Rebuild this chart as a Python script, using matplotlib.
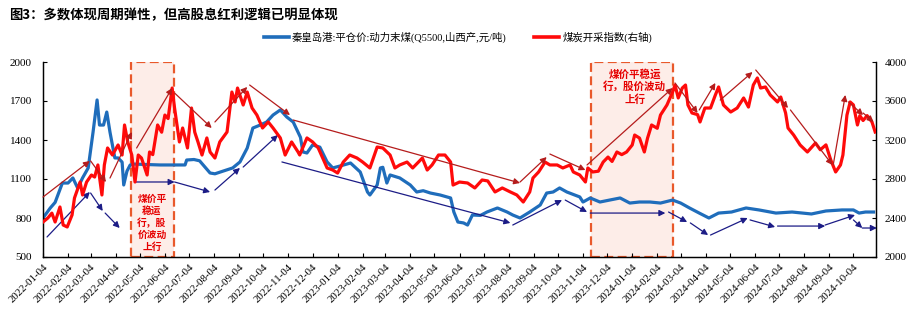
import matplotlib
matplotlib.use("Agg")
import matplotlib.pyplot as plt
import matplotlib.dates as mdates
from matplotlib.lines import Line2D
import pandas as pd

plt.rcParams['font.family'] = ['Liberation Serif', 'Noto Sans CJK SC']

title = "图3：多数体现周期弹性，但高股息红利逻辑已明显体现"
coal_label = "秦皇岛港:平仓价:动力末煤(Q5500,山西产,元/吨)"
index_label = "煤炭开采指数(右轴)"

# 秦皇岛港动力末煤 平仓价 (left axis)
coal_dates = [
    "2022-01-04", "2022-01-13", "2022-01-19", "2022-01-28", "2022-02-04", "2022-02-10",
    "2022-02-16", "2022-02-22", "2022-03-01", "2022-03-07", "2022-03-12", "2022-03-15",
    "2022-03-20", "2022-03-24", "2022-03-28", "2022-04-03", "2022-04-07", "2022-04-12",
    "2022-04-14", "2022-04-18", "2022-04-22", "2022-04-25", "2022-05-29", "2022-06-29",
    "2022-07-01", "2022-07-10", "2022-07-17", "2022-07-30", "2022-08-05", "2022-08-27",
    "2022-09-05", "2022-09-14", "2022-09-21", "2022-09-30", "2022-10-08", "2022-10-16",
    "2022-10-25", "2022-11-02", "2022-11-10", "2022-11-19", "2022-11-22", "2022-11-27",
    "2022-12-04", "2022-12-13", "2022-12-22", "2022-12-29", "2023-01-07", "2023-01-20",
    "2023-02-01", "2023-02-10", "2023-02-13", "2023-02-22", "2023-02-26", "2023-03-01",
    "2023-03-06", "2023-03-10", "2023-03-22", "2023-04-04", "2023-04-12", "2023-04-20",
    "2023-04-29", "2023-05-11", "2023-05-24", "2023-05-28", "2023-06-02", "2023-06-09",
    "2023-06-14", "2023-06-20", "2023-06-30", "2023-07-08", "2023-07-21", "2023-08-02",
    "2023-08-09", "2023-08-18", "2023-08-30", "2023-09-12", "2023-09-20", "2023-09-28",
    "2023-10-06", "2023-10-15", "2023-10-31", "2023-11-04", "2023-11-13", "2023-11-25",
    "2023-12-07", "2023-12-20", "2024-01-01", "2024-01-13", "2024-01-26", "2024-02-08",
    "2024-02-23", "2024-03-04", "2024-03-15", "2024-03-27", "2024-04-08", "2024-04-20",
    "2024-05-06", "2024-05-24", "2024-06-09", "2024-06-30", "2024-07-20", "2024-08-13",
    "2024-08-31", "2024-09-20", "2024-10-04", "2024-10-11", "2024-10-19", "2024-10-29",
]
coal_price = [
    800, 877, 920, 1069, 1069, 1108,
    1030, 1108, 1185, 1460, 1708, 1515,
    1515, 1615, 1460, 1262, 1262, 1230,
    1054, 1160, 1208, 1215, 1208, 1208,
    1246, 1250, 1240, 1146, 1140, 1185,
    1231, 1338, 1492, 1515, 1538, 1592,
    1631, 1577, 1538, 1420, 1308, 1300,
    1362, 1345, 1231, 1185, 1200, 1223,
    1154, 1000, 977, 1054, 1185, 1190,
    1069, 1131, 1108, 1054, 1000, 1010,
    992, 977, 954, 846, 769, 762,
    746, 823, 820, 846, 877, 846,
    823, 800, 846, 900, 992, 1000,
    1031, 1000, 962, 923, 954, 923,
    938, 954, 915, 923, 923, 915,
    938, 915, 877, 838, 800, 838,
    846, 877, 862, 838, 846, 831,
    854, 862, 862, 838, 846, 846,
]

# 煤炭开采指数 (right axis)
index_dates = [
    "2022-01-04", "2022-01-10", "2022-01-15", "2022-01-19", "2022-01-25", "2022-01-29",
    "2022-02-03", "2022-02-09", "2022-02-12", "2022-02-19", "2022-02-22", "2022-02-27",
    "2022-03-05", "2022-03-09", "2022-03-13", "2022-03-18", "2022-03-21", "2022-03-25",
    "2022-03-31", "2022-04-07", "2022-04-12", "2022-04-15", "2022-04-19", "2022-04-24",
    "2022-04-28", "2022-05-02", "2022-05-06", "2022-05-13", "2022-05-16", "2022-05-20",
    "2022-05-26", "2022-05-31", "2022-06-04", "2022-06-08", "2022-06-13", "2022-06-16",
    "2022-06-22", "2022-06-26", "2022-07-02", "2022-07-07", "2022-07-11", "2022-07-15",
    "2022-07-20", "2022-07-26", "2022-07-30", "2022-08-05", "2022-08-11", "2022-08-20",
    "2022-08-26", "2022-08-30", "2022-09-02", "2022-09-09", "2022-09-14", "2022-09-20",
    "2022-09-26", "2022-10-03", "2022-10-10", "2022-10-16", "2022-10-25", "2022-10-31",
    "2022-11-08", "2022-11-16", "2022-11-18", "2022-11-27", "2022-12-04", "2022-12-11",
    "2022-12-22", "2022-12-29", "2023-01-04", "2023-01-11", "2023-01-19", "2023-01-28",
    "2023-02-04", "2023-02-13", "2023-02-22", "2023-03-01", "2023-03-10", "2023-03-16",
    "2023-03-22", "2023-03-31", "2023-04-07", "2023-04-19", "2023-04-25", "2023-05-01",
    "2023-05-09", "2023-05-17", "2023-05-24", "2023-05-27", "2023-06-04", "2023-06-14",
    "2023-06-23", "2023-07-02", "2023-07-09", "2023-07-18", "2023-07-27", "2023-08-06",
    "2023-08-14", "2023-08-22", "2023-08-30", "2023-09-03", "2023-09-10", "2023-09-18",
    "2023-09-24", "2023-10-03", "2023-10-10", "2023-10-19", "2023-10-23", "2023-10-31",
    "2023-11-07", "2023-11-10", "2023-11-16", "2023-11-23", "2023-11-29", "2023-12-05",
    "2023-12-10", "2023-12-16", "2023-12-22", "2023-12-28", "2024-01-04", "2024-01-07",
    "2024-01-13", "2024-01-19", "2024-01-23", "2024-01-28", "2024-02-04", "2024-02-08",
    "2024-02-16", "2024-02-23", "2024-02-26", "2024-03-01", "2024-03-06", "2024-03-10",
    "2024-03-13", "2024-03-18", "2024-03-25", "2024-03-28", "2024-04-03", "2024-04-10",
    "2024-04-16", "2024-04-20", "2024-04-26", "2024-05-05", "2024-05-13", "2024-05-21",
    "2024-05-27", "2024-06-02", "2024-06-07", "2024-06-11", "2024-06-17", "2024-06-23",
    "2024-07-02", "2024-07-06", "2024-07-12", "2024-07-15", "2024-07-22", "2024-07-30",
    "2024-08-08", "2024-08-18", "2024-08-24", "2024-08-31", "2024-09-06", "2024-09-12",
    "2024-09-18", "2024-09-21", "2024-09-26", "2024-09-30", "2024-10-04", "2024-10-09",
    "2024-10-12", "2024-10-16", "2024-10-21", "2024-10-27", "2024-10-31",
]
index_value = [
    2359, 2400, 2450, 2359, 2513, 2328,
    2308, 2431, 2605, 2769, 2636, 2769,
    2841, 2820, 2944, 2636, 2944, 3118,
    3046, 3149, 3046, 3354, 3180, 3046,
    2769, 3046, 3015, 2841, 3077, 3050,
    3354, 3280, 3456, 3420, 3733, 3528,
    3180, 3323, 3118, 3528, 3280, 3180,
    3046, 3221, 3077, 3015, 3180, 3282,
    3692, 3590, 3733, 3559, 3692, 3528,
    3456, 3323, 3385, 3323, 3221, 3046,
    3180, 3077, 3046, 3221, 3180, 3118,
    2913, 2892, 2861, 2974, 3046, 3015,
    2974, 2913, 3128, 3118, 3046, 2913,
    2944, 2974, 2913, 3015, 2892, 2944,
    3046, 3046, 2974, 2738, 2769, 2759,
    2708, 2790, 2780, 2667, 2708, 2667,
    2636, 2564, 2667, 2810, 2872, 2974,
    2944, 2944, 2913, 2944, 2872, 2841,
    2769, 2913, 2872, 2880, 2974, 3025,
    2980, 3077, 3050, 3077, 3149, 3251,
    3220, 3077, 3220, 3354, 3320, 3456,
    3559, 3692, 3764, 3631, 3733, 3764,
    3559, 3477, 3460, 3385, 3528, 3528,
    3662, 3744, 3559, 3487, 3528, 3631,
    3538, 3764, 3836, 3733, 3744, 3662,
    3590, 3641, 3477, 3323, 3251, 3149,
    3077, 3169, 3100, 3150, 2995, 2872,
    2944, 3046, 3456, 3590, 3560, 3354,
    3450, 3400, 3450, 3385, 3282,
]

# trend arrows: (start date, start value, end date, end value)
index_arrows = [
    ("2022-01-04", 2615, "2022-03-03", 2985),
    ("2022-03-04", 2985, "2022-03-23", 2769),
    ("2022-03-28", 2810, "2022-04-24", 3282),
    ("2022-04-30", 3118, "2022-06-13", 3733),
    ("2022-06-16", 3682, "2022-08-01", 3323),
    ("2022-08-05", 3385, "2022-09-14", 3744),
    ("2022-09-17", 3764, "2022-11-06", 3456),
    ("2022-11-10", 3405, "2023-08-18", 2759),
    ("2023-08-18", 2769, "2023-09-20", 3025),
    ("2023-09-24", 3056, "2023-11-07", 2892),
    ("2023-11-09", 2944, "2024-02-23", 3733),
    ("2024-02-26", 3785, "2024-03-25", 3477),
    ("2024-03-27", 3508, "2024-04-16", 3785),
    ("2024-04-22", 3610, "2024-06-01", 3897),
    ("2024-06-05", 3918, "2024-07-15", 3528),
    ("2024-07-18", 3508, "2024-09-08", 2944),
    ("2024-09-09", 2944, "2024-09-24", 3662),
    ("2024-09-28", 3590, "2024-10-16", 3456),
    ("2024-10-16", 3477, "2024-10-29", 3385),
]
coal_arrows = [
    ("2022-01-09", 654, "2022-03-03", 1000),
    ("2022-03-04", 992, "2022-03-19", 854),
    ("2022-03-22", 838, "2022-04-09", 723),
    ("2022-04-28", 1077, "2022-06-16", 1077),
    ("2022-06-16", 1077, "2022-07-30", 1000),
    ("2022-08-05", 1015, "2022-09-05", 1185),
    ("2022-09-09", 1192, "2022-10-22", 1438),
    ("2022-10-27", 1231, "2023-08-06", 762),
    ("2023-08-09", 746, "2023-10-09", 938),
    ("2023-10-13", 938, "2023-11-09", 846),
    ("2023-11-13", 838, "2024-02-14", 838),
    ("2024-02-18", 846, "2024-03-12", 769),
    ("2024-03-16", 762, "2024-04-07", 669),
    ("2024-04-10", 669, "2024-05-26", 800),
    ("2024-05-29", 785, "2024-06-29", 731),
    ("2024-07-02", 738, "2024-08-30", 738),
    ("2024-08-30", 746, "2024-10-06", 823),
    ("2024-10-04", 785, "2024-10-15", 723),
    ("2024-10-15", 723, "2024-11-02", 723),
]

# shaded periods and their notes
box_periods = [("2022-04-23", "2022-06-15"), ("2023-11-14", "2024-02-24")]
box_notes = ["煤价平\n稳运\n行，股\n价波动\n上行", "煤价平稳运\n行，股价波动\n上行"]
note_spots = [("2022-05-19", 762), ("2024-01-07", 1808)]

BLUE = "#1f6dbb"
RED = "#ff0a0a"
DARK_RED = "#b51c1c"
NAVY = "#1c1c86"

W, H = 915, 322
fig = plt.figure(figsize=(W / 100, H / 100), dpi=100)
ax = fig.add_axes([43 / W, 1 - 257 / H, (876 - 43) / W, (257 - 62) / H])
ax2 = ax.twinx()

for a, b in box_periods:
    ax.axvspan(pd.Timestamp(a), pd.Timestamp(b), ymin=0, ymax=1, facecolor="#fdede8",
               edgecolor="#e9592b", lw=1.6, ls=(0, (4, 2)), zorder=0)

ax.plot(pd.to_datetime(coal_dates), coal_price, color=BLUE, lw=2.3, zorder=3)
ax2.plot(pd.to_datetime(index_dates), index_value, color=RED, lw=2.3, zorder=3)


def draw_arrows(axis, arrows, color):
    for d0, v0, d1, v1 in arrows:
        axis.annotate("", xy=(mdates.date2num(pd.Timestamp(d1)), v1),
                      xytext=(mdates.date2num(pd.Timestamp(d0)), v0),
                      arrowprops=dict(arrowstyle="-|>", color=color, lw=0.9,
                                      mutation_scale=9, shrinkA=0, shrinkB=0),
                      annotation_clip=False, zorder=5)


draw_arrows(ax, coal_arrows, NAVY)
draw_arrows(ax2, index_arrows, DARK_RED)

sizes = [7, 7.6]
for note, (d, v), fs in zip(box_notes, note_spots, sizes):
    ax.text(pd.Timestamp(d), v, note, color="#e60000", fontsize=fs, fontweight="bold",
            ha="center", va="center", linespacing=1.25, zorder=6,
            family=["Noto Sans CJK SC"])

ax.set_xlim(pd.Timestamp("2022-01-04"), pd.Timestamp("2024-11-01"))
ax.set_ylim(500, 2000)
ax.set_yticks(range(500, 2001, 300))
ax2.set_ylim(2000, 4000)
ax2.set_yticks(range(2000, 4001, 400))

ax.xaxis.set_major_locator(mdates.MonthLocator(bymonthday=4))
ax.xaxis.set_major_formatter(mdates.DateFormatter("%Y-%m-%d"))
for lbl in ax.get_xticklabels():
    lbl.set_rotation(45)
    lbl.set_ha("right")
    lbl.set_rotation_mode("anchor")

ax.tick_params(axis="x", direction="in", length=3, labelsize=7.8, pad=4)
ax.tick_params(axis="y", direction="in", length=3, labelsize=8, pad=8)
ax2.tick_params(axis="y", direction="in", length=3, labelsize=8, pad=6)
for a in (ax, ax2):
    a.spines["top"].set_visible(False)
    for s in ("left", "right", "bottom"):
        a.spines[s].set_linewidth(0.9)

fig.text(9 / W, 1 - 15 / H, title, fontsize=9.6, fontweight="bold", ha="left", va="center",
         family=["Noto Sans CJK SC"])

handles = [Line2D([], [], color=BLUE, lw=2.6), Line2D([], [], color=RED, lw=2.6)]
fig.legend(handles, [coal_label, index_label], loc="center", ncol=2, frameon=False,
           bbox_to_anchor=((258 + 658) / 2 / W, 1 - 37 / H), fontsize=7.5,
           handlelength=2.4, handletextpad=0.3, columnspacing=2.6)

fig.savefig("out.png", dpi=100)
